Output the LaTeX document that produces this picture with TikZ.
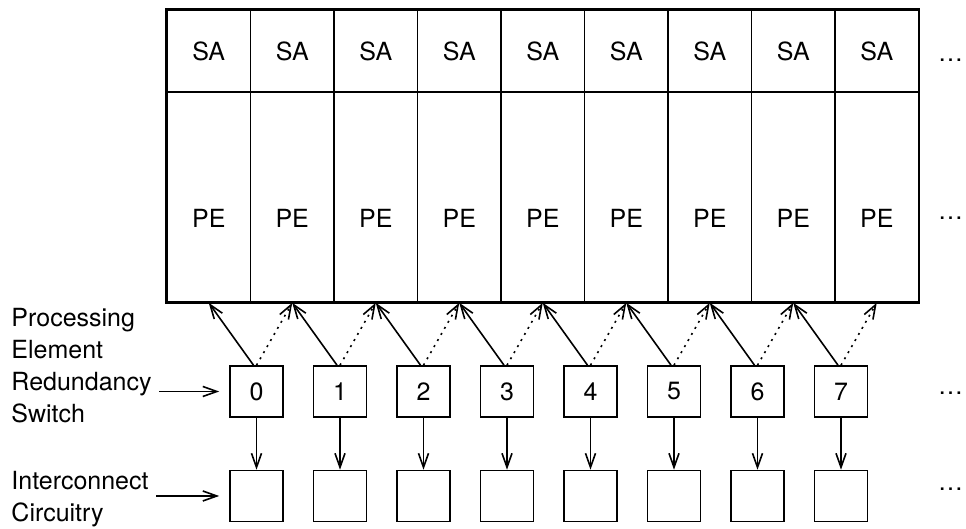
\documentclass[tikz,border=0pt]{standalone}
\usepackage{fontspec}
\setmainfont{TeX Gyre Heros}
\usetikzlibrary{arrows.meta}

\begin{document}
\begin{tikzpicture}[x=0.5pt,y=-0.5pt,
    font=\fontsize{12.5}{16}\selectfont,
    line width=0.8pt,
    cell/.style={rectangle,draw,inner sep=0pt,minimum width=41.75pt},
    swbox/.style={rectangle,draw,inner sep=0pt,minimum width=26.5pt,minimum height=25.5pt},
    link/.style={-{Straight Barb[length=7pt,width=5pt]}}]
  \useasboundingbox (0,0) rectangle (966,529);
  % sense amplifiers over processing elements
  \foreach \i in {0,...,8} {
    \node[cell,minimum height=41pt] (sa\i) at (208.75+83.5*\i,51) {SA};
    \node[cell,minimum height=105pt] (pe\i) at (208.75+83.5*\i,197) {};
    \node (pel\i) at (208.75+83.5*\i,218) {PE};
  }
  \draw[line width=1.1pt] (sa0.north west) rectangle (pe8.south east);
  % redundancy switches and interconnect
  \foreach \i in {0,...,7} {
    \node[swbox] (sw\i) at (256.5+83.5*\i,391.5) {\i};
    \node[swbox] (ic\i) at (256.5+83.5*\i,496) {};
    \draw[link] (sw\i.south) -- (ic\i.north);
    \draw[link] ([xshift=-1.5pt]sw\i.north) -- (pe\i.south);
    \pgfmathtruncatemacro\j{\i+1}
    \draw[link,dash pattern=on 1pt off 2.5pt] (sw\i.north) -- (pe\j.south);
  }
  % continuation marks
  \foreach \y [count=\k] in {60,218,393,489}
    \node[anchor=east,inner sep=0pt] (more\k) at (964,\y) {\dots};
  % side labels
  \node[align=left,anchor=west] (pers) at (4,366) {Processing\\Element\\Redundancy\\Switch};
  \node[align=left,anchor=west] (icl) at (4,499) {Interconnect\\Circuitry};
  \draw[link] (pers.east |- sw0.west) -- ([xshift=-5pt]sw0.west);
  \draw[link] (icl.east |- ic0.west) -- ([xshift=-5pt]ic0.west);
\end{tikzpicture}
\end{document}
